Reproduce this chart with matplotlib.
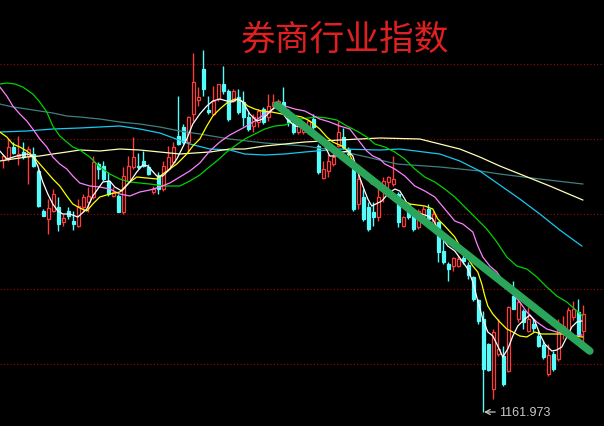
import matplotlib
matplotlib.use("Agg")
import matplotlib.pyplot as plt
import numpy as np

plt.rcParams['font.family'] = ['Noto Sans CJK SC', 'DejaVu Sans']

# daily candles (open, high, low, close)
opens = [1666, 1668, 1692, 1674, 1682, 1674, 1678, 1644, 1564, 1548,
         1564, 1572, 1542, 1564, 1544, 1534, 1572, 1582, 1592, 1658,
         1654, 1624, 1594, 1594, 1562, 1624, 1652, 1654, 1664, 1652,
         1602, 1634, 1608, 1648, 1662, 1714, 1732, 1702, 1758, 1786,
         1848, 1766, 1758, 1788, 1818, 1804, 1784, 1792, 1782, 1752,
         1734, 1742, 1768, 1752, 1774, 1778, 1782, 1758, 1738, 1722,
         1722, 1724, 1748, 1694, 1630, 1644, 1658, 1694, 1712, 1688,
         1648, 1578, 1592, 1572, 1562, 1552, 1604, 1622, 1618, 1598,
         1534, 1578, 1564, 1532, 1554, 1568, 1534, 1542, 1484, 1458,
         1454, 1454, 1470, 1456, 1432, 1386, 1348, 1298, 1208, 1278,
         1274, 1244, 1394, 1348, 1364, 1324, 1338, 1314, 1296, 1238,
         1278, 1268, 1324, 1318, 1352, 1362, 1324]
highs = [1678, 1708, 1702, 1714, 1702, 1694, 1692, 1648, 1568, 1588,
         1608, 1592, 1558, 1572, 1564, 1588, 1598, 1612, 1674, 1662,
         1664, 1642, 1612, 1598, 1652, 1674, 1712, 1680, 1684, 1658,
         1614, 1642, 1664, 1694, 1702, 1794, 1738, 1754, 1880, 1812,
         1886, 1794, 1814, 1818, 1854, 1808, 1808, 1808, 1804, 1762,
         1758, 1768, 1772, 1798, 1798, 1788, 1812, 1768, 1748, 1748,
         1742, 1748, 1758, 1698, 1664, 1678, 1684, 1744, 1730, 1692,
         1654, 1638, 1608, 1582, 1582, 1612, 1632, 1634, 1674, 1602,
         1554, 1582, 1568, 1568, 1574, 1578, 1564, 1544, 1514, 1462,
         1472, 1476, 1476, 1462, 1434, 1388, 1364, 1300, 1328, 1348,
         1294, 1374, 1424, 1388, 1368, 1372, 1348, 1324, 1304, 1298,
         1284, 1348, 1354, 1372, 1384, 1388, 1376]
lows = [1650, 1664, 1678, 1656, 1668, 1618, 1652, 1572, 1554, 1518,
        1562, 1524, 1534, 1548, 1526, 1532, 1562, 1562, 1588, 1628,
        1624, 1594, 1592, 1562, 1558, 1622, 1648, 1648, 1652, 1636,
        1598, 1598, 1604, 1644, 1658, 1696, 1698, 1682, 1744, 1774,
        1794, 1758, 1756, 1784, 1798, 1744, 1782, 1758, 1734, 1724,
        1722, 1732, 1738, 1744, 1772, 1774, 1762, 1734, 1718, 1718,
        1718, 1718, 1728, 1638, 1628, 1632, 1654, 1692, 1688, 1674,
        1564, 1568, 1544, 1524, 1534, 1544, 1582, 1608, 1614, 1532,
        1532, 1548, 1524, 1528, 1550, 1542, 1532, 1462, 1458, 1424,
        1444, 1452, 1458, 1428, 1384, 1338, 1161.973, 1244, 1188, 1274,
        1214, 1242, 1368, 1342, 1328, 1322, 1322, 1292, 1268, 1234,
        1244, 1264, 1308, 1314, 1346, 1314, 1298]
closes = [1674, 1692, 1680, 1678, 1672, 1688, 1654, 1574, 1554, 1570,
          1598, 1538, 1550, 1554, 1538, 1574, 1592, 1594, 1662, 1648,
          1628, 1598, 1602, 1562, 1634, 1654, 1672, 1652, 1654, 1638,
          1608, 1608, 1654, 1672, 1692, 1698, 1702, 1752, 1822, 1792,
          1808, 1762, 1784, 1818, 1804, 1748, 1804, 1762, 1752, 1728,
          1752, 1764, 1742, 1774, 1782, 1784, 1768, 1742, 1722, 1734,
          1732, 1744, 1732, 1642, 1648, 1664, 1672, 1722, 1692, 1678,
          1568, 1628, 1548, 1528, 1552, 1592, 1624, 1632, 1628, 1542,
          1552, 1552, 1528, 1564, 1568, 1548, 1558, 1482, 1462, 1448,
          1470, 1468, 1464, 1436, 1388, 1344, 1248, 1246, 1322, 1288,
          1218, 1372, 1368, 1382, 1342, 1348, 1330, 1294, 1272, 1276,
          1248, 1328, 1334, 1366, 1368, 1318, 1358]

# moving averages (x = candle index)
ma5_x = [-0.7, 0.7, 2.7, 4.7, 5.9, 6.9, 7.9, 8.9, 9.9, 10.9, 11.9, 13.3, 14.9,
         16.7, 17.9, 19.9, 21.3, 22.3, 23.7, 25.3, 26.7, 27.9, 28.9, 30.7, 31.9,
         33.3, 34.7, 36.7, 37.9, 39.3, 40.7, 41.9, 43.3, 44.7, 45.7, 46.9, 47.9,
         49.3, 50.7, 51.9, 53.3, 54.3, 55.3, 56.7, 58.3, 59.9, 61.3, 63.3, 64.3,
         65.3, 66.7, 67.9, 68.9, 69.9, 70.9, 71.9, 72.9, 73.7, 74.5, 75.7, 76.9,
         78.3, 79.3, 80.3, 81.3, 82.3, 83.7, 84.9, 85.9, 86.9, 87.9, 88.9, 90.3,
         91.9, 92.9, 93.9, 94.9, 95.9, 96.9, 97.9, 98.9, 99.9, 100.9, 101.9,
         102.9, 103.9, 105.3, 106.3, 107.3, 108.3, 109.7, 110.7, 111.7, 112.7,
         113.7, 114.7, 115.7]
ma5_y = [1684, 1668, 1674, 1678, 1674, 1654, 1622, 1598, 1578, 1564, 1558, 1558,
         1552, 1568, 1594, 1622, 1624, 1612, 1604, 1622, 1642, 1656, 1654, 1634,
         1634, 1648, 1668, 1708, 1738, 1758, 1774, 1784, 1788, 1784, 1782, 1788,
         1782, 1758, 1744, 1748, 1762, 1772, 1768, 1748, 1734, 1732, 1722, 1708,
         1694, 1674, 1674, 1682, 1684, 1674, 1642, 1614, 1588, 1574, 1578, 1584,
         1598, 1608, 1604, 1588, 1568, 1562, 1558, 1554, 1548, 1528, 1508, 1494,
         1484, 1462, 1448, 1422, 1384, 1348, 1322, 1314, 1294, 1272, 1288, 1314,
         1334, 1344, 1356, 1344, 1318, 1298, 1284, 1286, 1292, 1312, 1332, 1342,
         1344]

ma10_x = [-0.7, 0.7, 1.9, 3.3, 4.7, 5.9, 7.3, 8.7, 9.9, 11.3, 12.7, 13.9, 15.3,
          16.7, 17.9, 19.3, 21.3, 23.3, 25.3, 26.7, 28.7, 30.7, 31.9, 33.3, 34.7,
          36.7, 37.9, 39.3, 40.7, 41.9, 43.3, 44.7, 46.3, 47.7, 48.9, 50.3, 51.7,
          53.7, 55.7, 57.7, 59.7, 61.3, 63.3, 64.7, 65.9, 67.7, 68.9, 69.9, 70.9,
          72.3, 73.7, 75.3, 78.3, 81.3, 84.3, 85.9, 86.9, 88.3, 90.3, 91.3, 92.7,
          93.9, 94.9, 95.7, 96.3, 96.9, 97.9, 99.3, 100.7, 101.9, 103.3, 104.7,
          106.3, 107.7, 109.7, 111.7, 113.7, 115.9]
ma10_y = [1722, 1712, 1698, 1692, 1684, 1674, 1658, 1642, 1628, 1614, 1594, 1578,
          1570, 1564, 1578, 1592, 1598, 1602, 1622, 1632, 1630, 1628, 1638, 1648,
          1658, 1678, 1694, 1708, 1734, 1754, 1768, 1780, 1788, 1784, 1774, 1768,
          1764, 1762, 1758, 1756, 1752, 1744, 1728, 1712, 1702, 1694, 1684, 1664,
          1652, 1634, 1618, 1612, 1592, 1578, 1574, 1568, 1548, 1534, 1512, 1494,
          1472, 1454, 1442, 1418, 1394, 1374, 1358, 1342, 1328, 1322, 1314, 1312,
          1322, 1318, 1318, 1318, 1314, 1312]

ma20_x = [-0.7, 0.7, 1.9, 3.3, 4.7, 5.9, 7.3, 8.7, 9.9, 11.3, 12.7, 13.9, 15.3,
          17.3, 19.3, 21.3, 23.3, 25.3, 27.3, 29.3, 31.3, 33.3, 35.3, 37.3, 39.3,
          41.3, 43.3, 45.3, 48.3, 50.3, 52.3, 54.3, 56.3, 58.3, 60.3, 63.3, 65.3,
          67.3, 69.3, 71.3, 72.7, 73.9, 75.3, 76.3, 78.3, 80.3, 82.3, 84.3, 86.3,
          88.3, 90.3, 91.9, 93.9, 94.9, 95.9, 97.3, 98.7, 100.7, 101.9, 103.3,
          104.7, 106.7, 108.7, 110.7, 112.7, 114.7, 115.7]
ma20_y = [1812, 1794, 1774, 1758, 1744, 1728, 1708, 1692, 1672, 1658, 1648, 1634,
          1620, 1614, 1612, 1608, 1598, 1594, 1602, 1606, 1612, 1620, 1632, 1644,
          1660, 1684, 1702, 1716, 1732, 1744, 1758, 1770, 1774, 1768, 1764, 1748,
          1742, 1734, 1728, 1702, 1684, 1674, 1668, 1658, 1648, 1634, 1614, 1604,
          1592, 1568, 1544, 1538, 1522, 1494, 1472, 1454, 1442, 1414, 1398, 1382,
          1362, 1342, 1328, 1322, 1318, 1314, 1316]

ma30_x = [-0.7, 0.7, 2.3, 3.9, 5.9, 7.3, 8.7, 9.9, 11.3, 12.7, 13.9, 15.3, 17.3,
          19.3, 21.3, 23.3, 25.3, 27.3, 29.3, 32.3, 35.3, 37.3, 39.3, 40.7, 42.7,
          44.7, 46.3, 48.3, 50.3, 52.3, 54.3, 56.3, 59.3, 62.7, 64.7, 66.7, 68.7,
          70.7, 72.7, 74.3, 76.3, 78.3, 80.3, 82.3, 84.3, 86.3, 88.3, 90.3, 92.7,
          94.7, 96.7, 98.7, 100.7, 102.7, 104.7, 106.7, 108.7, 110.7, 112.7,
          114.7, 115.9]
ma30_y = [1818, 1820, 1818, 1812, 1798, 1782, 1762, 1734, 1714, 1702, 1692, 1686,
          1672, 1652, 1638, 1628, 1622, 1620, 1618, 1614, 1614, 1624, 1636, 1648,
          1664, 1682, 1694, 1708, 1718, 1728, 1734, 1736, 1748, 1752, 1750, 1746,
          1734, 1724, 1712, 1698, 1692, 1682, 1668, 1648, 1632, 1622, 1608, 1592,
          1568, 1548, 1528, 1502, 1472, 1454, 1448, 1432, 1412, 1394, 1382, 1364,
          1354]

ma60_x = [-0.7, 1.9, 4.7, 7.3, 9.9, 12.7, 15.3, 19.3, 23.3, 27.3, 31.3, 35.3,
          41.3, 45.3, 48.3, 52.3, 56.3, 60.3, 67.3, 75.3, 83.3, 87.3, 91.3, 95.3,
          99.3, 103.3, 109.3, 115.9]
ma60_y = [1664, 1668, 1672, 1674, 1678, 1682, 1686, 1684, 1688, 1686, 1682, 1678,
          1682, 1688, 1688, 1694, 1698, 1702, 1706, 1710, 1708, 1698, 1688, 1672,
          1654, 1638, 1614, 1586]

ma120_x = [-0.7, 4.7, 9.9, 15.3, 19.3, 23.3, 27.3, 31.3, 37.3, 41.3, 45.3, 48.3,
           52.3, 56.3, 60.3, 67.3, 75.3, 79.3, 87.3, 91.3, 95.3, 99.3, 103.3,
           107.3, 111.3, 115.7]
ma120_y = [1722, 1724, 1728, 1730, 1732, 1734, 1728, 1720, 1698, 1688, 1686,
           1678, 1676, 1678, 1682, 1688, 1686, 1688, 1678, 1664, 1644, 1616, 1588,
           1558, 1526, 1494]

ma250_x = [-0.7, 1.9, 4.7, 7.3, 9.9, 12.7, 15.3, 19.3, 23.3, 27.3, 31.3, 35.3,
           39.3, 45.3, 52.3, 60.3, 67.3, 72.7, 78.7, 87.3, 95.3, 99.3, 107.3, 115.9]
ma250_y = [1778, 1772, 1768, 1764, 1760, 1754, 1752, 1748, 1742, 1738, 1732, 1724,
           1718, 1708, 1700, 1694, 1684, 1672, 1658, 1652, 1644, 1638, 1628, 1618]

# hand-drawn trend line
trend_x = [54.7, 117.3]
trend_y = [1776, 1284]

grid_levels = [1858, 1708, 1558, 1408, 1258]
low_label = "1161.973"
title = "券商行业指数"

up_color = '#ff3c3c'
down_color = '#54fcfc'

fig = plt.figure(figsize=(6.04, 4.27), dpi=100, facecolor='black')
ax = fig.add_axes([0, 0, 1, 1])
ax.set_facecolor('black')
ax.set_xlim(-0.66, 120.14)
ax.set_ylim(1134, 1988)
ax.axis('off')

for g in grid_levels:
    ax.axhline(g, color='#9a0a0a', lw=0.8, ls=(0, (1, 2)), zorder=1)

o = np.array(opens, dtype=float)
h = np.array(highs, dtype=float)
l = np.array(lows, dtype=float)
c = np.array(closes, dtype=float)
idx = np.arange(len(o))
up = c >= o
colors = np.where(up, up_color, down_color)

ax.vlines(idx, l, h, colors=colors, lw=1.0, zorder=2)
body_lo = np.minimum(o, c)
body_h = np.maximum(np.abs(c - o), 1.5)
ax.bar(idx[up], body_h[up], bottom=body_lo[up], width=0.7,
       facecolor='black', edgecolor=up_color, linewidth=0.9, zorder=3)
ax.bar(idx[~up], body_h[~up], bottom=body_lo[~up], width=0.7,
       facecolor=down_color, edgecolor=down_color, linewidth=0.9, zorder=3)

ma_lines = [
    (ma250_x, ma250_y, '#3f8080'),
    (ma120_x, ma120_y, '#18c8f0'),
    (ma60_x, ma60_y, '#ffffb8'),
    (ma30_x, ma30_y, '#00d200'),
    (ma20_x, ma20_y, '#ff80ff'),
    (ma10_x, ma10_y, '#ffff00'),
    (ma5_x, ma5_y, '#ffffff'),
]
for xs, ys, col in ma_lines:
    ax.plot(xs, ys, color=col, lw=0.9, zorder=4)

ax.plot(trend_x, trend_y, color='#2aa55a', lw=5.5, solid_capstyle='round',
        zorder=5)

# lowest point marker: small left arrow plus the value
low_i = int(np.argmin(l))
ax.annotate('', xy=(low_i + 0.15, l[low_i]), xytext=(8, 0),
            textcoords='offset points',
            arrowprops=dict(arrowstyle='->,head_length=0.35,head_width=0.18',
                            color='#c8c8c8', lw=0.9, shrinkA=0, shrinkB=0))
ax.annotate(low_label, xy=(low_i + 0.15, l[low_i]), xytext=(10.5, 0),
            textcoords='offset points', va='center', ha='left',
            color='#c8c8c8', fontsize=9, family=['Liberation Sans'])

ax.text(0.571, 0.906, title, transform=ax.transAxes, ha='center',
        va='center', color='#e02020', fontsize=25)

fig.savefig('out.png', dpi=100, facecolor='black')
